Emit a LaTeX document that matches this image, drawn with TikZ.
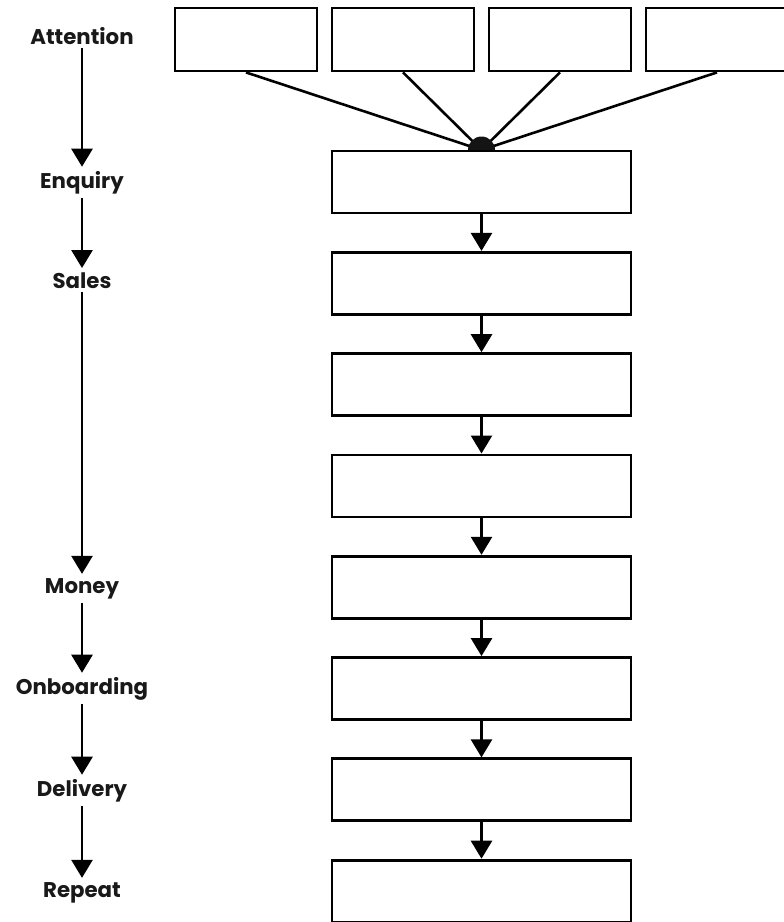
\documentclass[tikz,border=0pt]{standalone}
\usepackage{fontspec}
\setmainfont{Poppins}
\usetikzlibrary{arrows.meta}
\begin{document}
\begin{tikzpicture}[x=1pt,y=-1pt,
  box/.style={draw=black,line width=2.8pt,fill=white,minimum height=62pt,inner sep=0pt},
  topbox/.style={box,minimum width=142pt,minimum height=63pt},
  mainbox/.style={box,minimum width=299pt},
  lab/.style={font=\fontsize{21.3}{24}\selectfont\bfseries,text=black!90,inner xsep=0pt,inner ysep=4pt},
  conn/.style={line width=2.6pt},
  arr/.style={line width=2.6pt,-{Triangle[width=21pt,length=18pt]}}]
\useasboundingbox (0,0) rectangle (784,922);
\fill[white] (0,0) rectangle (784,922);
% left column labels
\node[lab,anchor=base] (att) at (82,44) {Attention};
\node[lab,anchor=base] (enq) at (82,188) {Enquiry};
\node[lab,anchor=base] (sal) at (82,288) {Sales};
\node[lab,anchor=base] (mon) at (82,593) {Money};
\node[lab,anchor=base] (onb) at (82,694) {Onboarding};
\node[lab,anchor=base] (del) at (82,796) {Delivery};
\node[lab,anchor=base] (rep) at (82,897) {Repeat};
\draw[arr] (att) -- (enq);
\draw[arr] (enq) -- (sal);
\draw[arr] (sal) -- (mon);
\draw[arr] (mon) -- (onb);
\draw[arr] (onb) -- (del);
\draw[arr] (del) -- (rep);
% top boxes
\node[topbox] (t1) at (246,39.5) {};
\node[topbox] (t2) at (403,39.5) {};
\node[topbox] (t3) at (560,39.5) {};
\node[topbox] (t4) at (717,39.5) {};
\coordinate (j) at (481.5,150);
\draw[conn] (t1.south) -- (j);
\draw[conn] (t2.south) -- (j);
\draw[conn] (t3.south) -- (j);
\draw[conn] (t4.south) -- (j);
\fill[black!92] (j) circle[radius=13.5pt];
% main column
\node[mainbox] (m1) at (481.5,182) {};
\node[mainbox] (m2) at (481.5,283.3) {};
\node[mainbox] (m3) at (481.5,384.6) {};
\node[mainbox] (m4) at (481.5,485.9) {};
\node[mainbox] (m5) at (481.5,587.2) {};
\node[mainbox] (m6) at (481.5,688.5) {};
\node[mainbox] (m7) at (481.5,789.8) {};
\node[mainbox] (m8) at (481.5,891.1) {};
\draw[arr] (m1) -- (m2);
\draw[arr] (m2) -- (m3);
\draw[arr] (m3) -- (m4);
\draw[arr] (m4) -- (m5);
\draw[arr] (m5) -- (m6);
\draw[arr] (m6) -- (m7);
\draw[arr] (m7) -- (m8);
\end{tikzpicture}
\end{document}
